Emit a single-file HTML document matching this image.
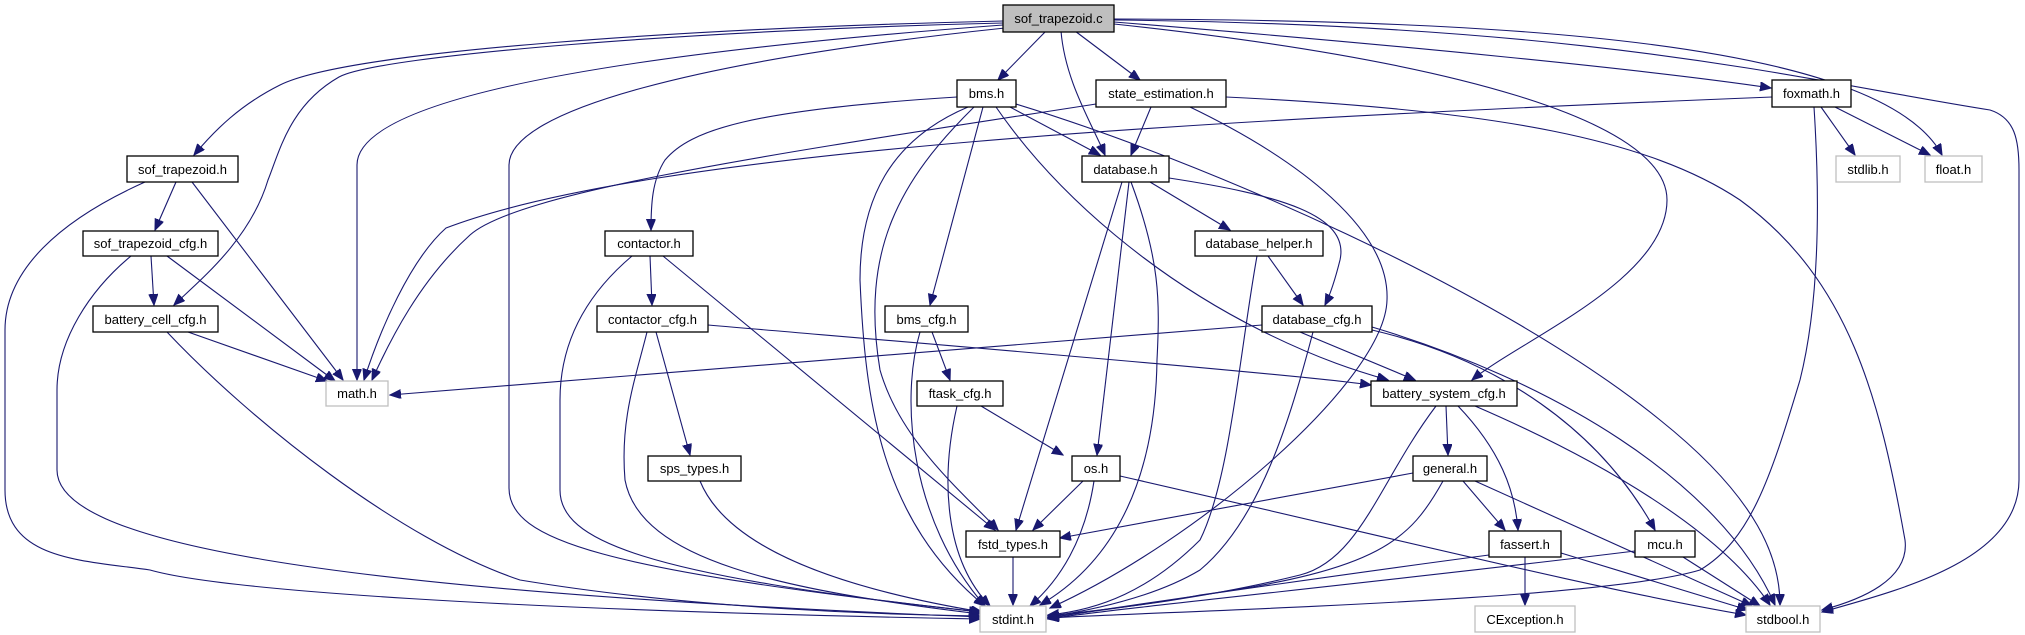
<!DOCTYPE html>
<html><head><meta charset="utf-8"><style>
html,body{margin:0;padding:0;background:#fff;width:2025px;height:635px;overflow:hidden}
svg{display:block}
text{font-family:"Liberation Sans",Arial,sans-serif;font-size:13px;fill:#000;text-anchor:middle}
.n{fill:#fff;stroke:#000;stroke-width:1.3}
.g{fill:#fff;stroke:#bfbfbf;stroke-width:1.3}
.r{fill:#bfbfbf;stroke:#000;stroke-width:1.3}
path{fill:none;stroke:#191970;stroke-width:1.1}
</style></head><body>
<svg width="2025" height="635" viewBox="0 0 2025 635" xmlns="http://www.w3.org/2000/svg">
<defs><marker id="a" markerUnits="userSpaceOnUse" markerWidth="12" markerHeight="10" refX="11" refY="4.5" orient="auto"><path d="M0,0 L11,4.5 L0,9 Z" style="fill:#191970;stroke:#191970"/></marker></defs>
<g marker-end="url(#a)">
<!-- from sof_trapezoid.c -->
<path d="M1003,21 C700,28 350,50 280,85 C240,105 215,130 194,155"/>
<path d="M1003,23 C700,30 380,55 339,77 C290,105 280,150 268,180 C250,240 200,280 174,305"/>
<path d="M1003,25 C600,55 357,100 357,165 L357,380"/>
<path d="M1005,28 C700,60 509,110 509,165 L509,488 C509,540 600,570 980,612"/>
<path d="M1046,31 L998,80"/>
<path d="M1061,31 C1065,80 1090,120 1105,155"/>
<path d="M1075,31 L1140,80"/>
<path d="M1114,22 C1400,45 1650,70 1771,88"/>
<path d="M1114,19 C1500,20 1880,40 1942,155"/>
<path d="M1114,20 C1600,25 1800,80 1990,110 C2015,118 2019,140 2019,170 L2019,480 C2019,560 1900,590 1822,612"/>
<path d="M1114,24 C1450,60 1667,120 1667,200 C1667,280 1520,340 1472,380"/>
<!-- bms.h -->
<path d="M957,97 C750,110 690,130 665,160 C652,180 651,205 651,230"/>
<path d="M1010,107 L1100,155"/>
<path d="M968,107 C890,140 860,200 860,280 C865,400 880,520 985,606"/>
<path d="M974,107 C900,180 860,250 880,370 C900,440 960,490 998,530"/>
<path d="M983,107 L930,305"/>
<path d="M996,107 C1060,200 1160,280 1260,330 C1320,360 1360,372 1388,380"/>
<path d="M1016,104 C1200,160 1500,290 1660,420 C1760,500 1780,560 1780,605"/>
<!-- state_estimation.h -->
<path d="M1151,107 L1131,155"/>
<path d="M1096,104 C800,150 520,190 470,235 C420,280 390,340 372,380"/>
<path d="M1190,107 C1300,160 1390,230 1387,300 C1385,380 1200,540 1050,608"/>
<path d="M1226,97 C1500,110 1650,140 1740,200 C1850,280 1880,400 1905,540 C1910,580 1860,600 1822,610"/>
<!-- foxmath.h -->
<path d="M1772,97 C1200,120 650,150 446,228 C410,260 380,330 364,380"/>
<path d="M1821,107 L1855,155"/>
<path d="M1835,107 L1930,155"/>
<path d="M1814,107 C1820,200 1820,300 1800,380 C1770,480 1750,540 1700,570 C1600,600 1200,610 1048,618"/>
<!-- database.h -->
<path d="M1150,182 L1230,230"/>
<path d="M1169,178 C1280,195 1350,215 1340,260 C1335,280 1330,295 1325,305"/>
<path d="M1122,182 L1016,530"/>
<path d="M1129,182 L1097,455"/>
<path d="M1131,182 C1160,260 1160,300 1157,360 C1155,500 1100,570 1040,605"/>
<!-- database_helper.h -->
<path d="M1268,256 L1303,305"/>
<path d="M1257,256 C1240,350 1230,480 1200,540 C1150,590 1100,610 1048,615"/>
<!-- database_cfg.h -->
<path d="M1262,325 L390,395"/>
<path d="M1300,332 L1415,380"/>
<path d="M1313,332 C1290,420 1260,520 1200,570 C1150,600 1080,612 1048,617"/>
<path d="M1372,330 C1500,360 1600,430 1655,530"/>
<path d="M1372,327 C1550,380 1720,480 1775,605"/>
<!-- contactor.h -->
<path d="M650,256 L652,305"/>
<path d="M632,256 C580,300 560,350 560,400 L560,490 C560,540 640,575 980,612"/>
<path d="M663,256 L995,530"/>
<!-- contactor_cfg.h -->
<path d="M656,332 L690,455"/>
<path d="M647,332 C635,380 620,420 625,480 C640,560 780,590 980,614"/>
<path d="M708,325 C1000,350 1300,375 1371,385"/>
<!-- sof_trapezoid.h -->
<path d="M145,182 C60,220 5,270 5,330 L5,490 C5,560 80,560 150,570 C220,590 500,610 980,619"/>
<path d="M176,182 L155,230"/>
<path d="M192,182 L343,380"/>
<!-- sof_trapezoid_cfg.h -->
<path d="M151,256 L154,305"/>
<path d="M167,256 L335,381"/>
<path d="M131,256 C90,290 57,340 57,390 L57,470 C57,540 300,590 980,617"/>
<!-- battery_cell_cfg.h -->
<path d="M188,332 L327,381"/>
<path d="M167,332 C250,420 400,540 520,580 C700,610 900,615 980,616"/>
<!-- bms_cfg / ftask / sps / os / fstd -->
<path d="M932,332 L950,380"/>
<path d="M920,332 C900,400 910,520 985,606"/>
<path d="M981,406 L1063,455"/>
<path d="M957,406 C940,480 945,560 990,606"/>
<path d="M700,481 C720,530 790,580 982,612"/>
<path d="M1083,481 L1033,530"/>
<path d="M1094,481 C1085,540 1060,580 1030,606"/>
<path d="M1120,476 C1400,540 1600,590 1746,615"/>
<path d="M1013,557 L1013,605"/>
<!-- battery_system_cfg.h -->
<path d="M1446,406 L1448,455"/>
<path d="M1458,406 C1500,450 1515,490 1518,530"/>
<path d="M1436,406 C1380,480 1360,560 1300,575 C1200,600 1100,610 1048,616"/>
<path d="M1475,406 C1600,460 1720,530 1770,605"/>
<!-- general.h -->
<path d="M1413,473 L1060,538"/>
<path d="M1463,481 L1505,530"/>
<path d="M1443,481 C1410,540 1380,570 1200,595 C1150,605 1080,612 1048,618"/>
<path d="M1475,481 L1752,606"/>
<!-- fassert / mcu -->
<path d="M1525,557 L1525,605"/>
<path d="M1489,555 C1300,580 1100,610 1048,618"/>
<path d="M1561,553 L1748,610"/>
<path d="M1635,551 C1400,580 1100,610 1048,619"/>
<path d="M1683,557 L1760,606"/>
</g>
<!-- nodes -->
<rect class="r" x="1003" y="5" width="111" height="27"/><text x="1058.5" y="23">sof_trapezoid.c</text>
<rect class="n" x="957" y="80" width="59" height="27"/><text x="986.5" y="98">bms.h</text>
<rect class="n" x="1096" y="80" width="130" height="27"/><text x="1161" y="98">state_estimation.h</text>
<rect class="n" x="1772" y="80" width="79" height="27"/><text x="1811.5" y="98">foxmath.h</text>
<rect class="n" x="127" y="156" width="111" height="26"/><text x="182.5" y="174">sof_trapezoid.h</text>
<rect class="n" x="1082" y="156" width="87" height="26"/><text x="1125.5" y="174">database.h</text>
<rect class="g" x="1836" y="156" width="64" height="26"/><text x="1868" y="174">stdlib.h</text>
<rect class="g" x="1925" y="156" width="57" height="26"/><text x="1953.5" y="174">float.h</text>
<rect class="n" x="83" y="231" width="135" height="25"/><text x="150.5" y="248">sof_trapezoid_cfg.h</text>
<rect class="n" x="605" y="231" width="88" height="25"/><text x="649" y="248">contactor.h</text>
<rect class="n" x="1195" y="231" width="128" height="25"/><text x="1259" y="248">database_helper.h</text>
<rect class="n" x="93" y="306" width="125" height="26"/><text x="155.5" y="324">battery_cell_cfg.h</text>
<rect class="n" x="597" y="306" width="111" height="26"/><text x="652.5" y="324">contactor_cfg.h</text>
<rect class="n" x="885" y="306" width="83" height="26"/><text x="926.5" y="324">bms_cfg.h</text>
<rect class="n" x="1262" y="306" width="110" height="26"/><text x="1317" y="324">database_cfg.h</text>
<rect class="g" x="326" y="381" width="62" height="25"/><text x="357" y="398">math.h</text>
<rect class="n" x="917" y="381" width="86" height="25"/><text x="960" y="398">ftask_cfg.h</text>
<rect class="n" x="1371" y="381" width="146" height="25"/><text x="1444" y="398">battery_system_cfg.h</text>
<rect class="n" x="648" y="456" width="93" height="25"/><text x="694.5" y="473">sps_types.h</text>
<rect class="n" x="1072" y="456" width="48" height="25"/><text x="1096" y="473">os.h</text>
<rect class="n" x="1413" y="456" width="74" height="25"/><text x="1450" y="473">general.h</text>
<rect class="n" x="966" y="531" width="94" height="26"/><text x="1013" y="549">fstd_types.h</text>
<rect class="n" x="1489" y="531" width="72" height="26"/><text x="1525" y="549">fassert.h</text>
<rect class="n" x="1635" y="531" width="60" height="26"/><text x="1665" y="549">mcu.h</text>
<rect class="g" x="980" y="606" width="66" height="26"/><text x="1013" y="624">stdint.h</text>
<rect class="g" x="1475" y="606" width="100" height="26"/><text x="1525" y="624">CException.h</text>
<rect class="g" x="1746" y="606" width="74" height="26"/><text x="1783" y="624">stdbool.h</text>
</svg>
</body></html>
